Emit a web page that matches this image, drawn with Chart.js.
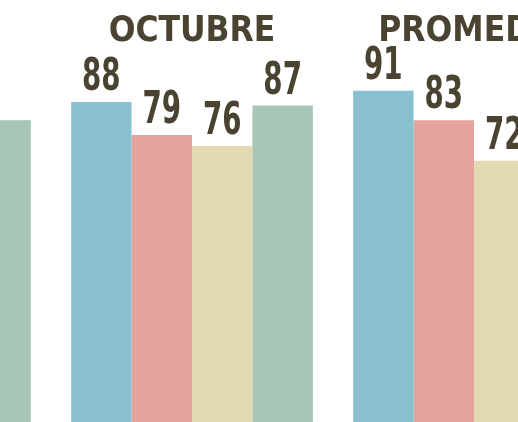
<!DOCTYPE html>
<html>
<head>
<meta charset="utf-8">
<script src="https://cdn.jsdelivr.net/npm/chart.js@4.4.1/dist/chart.umd.min.js"></script>
<style>
  html, body { margin: 0; padding: 0; background: #fff; overflow: hidden; width: 518px; height: 422px; }
  /* the picture is a crop of a wider chart, so the canvas hangs off the left edge */
  #wrap { position: absolute; left: -231px; top: 0; }
</style>
</head>
<body>
<div id="wrap"><canvas id="chart" width="846" height="430"></canvas></div>
<script>
const months = ['SEPTIEMBRE', 'OCTUBRE', 'PROMEDIO'];
const serie1 = [null, 88, 91];
const serie2 = [null, 79, 83];
const serie3 = [null, 76, 72];
const serie4 = [83, 87, null];

const colors = ['#88c0d0', '#e3a29c', '#e3dab4', '#a7c6b6'];
const ink = '#4a4331';
const FONT = '"DejaVu Sans Condensed", "DejaVu Sans", sans-serif';

// numbers above the bars (no datalabels plugin offline), squeezed to look condensed
const valueLabels = {
  id: 'valueLabels',
  afterDatasetsDraw(chart) {
    const ctx = chart.ctx;
    chart.data.datasets.forEach((ds, i) => {
      chart.getDatasetMeta(i).data.forEach((bar, j) => {
        if (j === 0 || ds.data[j] == null) return; // first month is cut off
        ctx.save();
        ctx.font = `bold 44px ${FONT}`;
        ctx.fillStyle = ink;
        ctx.textAlign = 'center';
        ctx.textBaseline = 'alphabetic';
        ctx.translate(bar.x, bar.y - 12);
        ctx.scale(0.7, 1);
        ctx.fillText(ds.data[j], 0, 0);
        ctx.restore();
      });
    });
  }
};

new Chart(document.getElementById('chart'), {
  type: 'bar',
  data: {
    labels: months,
    datasets: [serie1, serie2, serie3, serie4].map((d, i) => ({
      label: 'Serie ' + (i + 1),
      data: d,
      backgroundColor: colors[i],
      borderWidth: 0
    }))
  },
  options: {
    responsive: false,
    animation: false,
    layout: {padding: {top: 0, bottom: 5, left: 0, right: 0}},
    plugins: {legend: {display: false}, tooltip: {enabled: false}},
    datasets: {bar: {categoryPercentage: 0.857, barPercentage: 1}},
    scales: {
      x: {
        position: 'top',
        grid: {display: false},
        border: {display: false},
        afterFit(scale) { scale.height = 67; },
        ticks: {
          color: ink,
          font: {family: FONT, size: 35, weight: 'bold'},
          padding: 6, autoSkip: false, maxRotation: 0,
          callback(v, i) { return i === 0 ? '' : months[i]; }
        }
      },
      y: {display: false, min: 0, max: 97.5}
    }
  },
  plugins: [valueLabels]
});
</script>
</body>
</html>
